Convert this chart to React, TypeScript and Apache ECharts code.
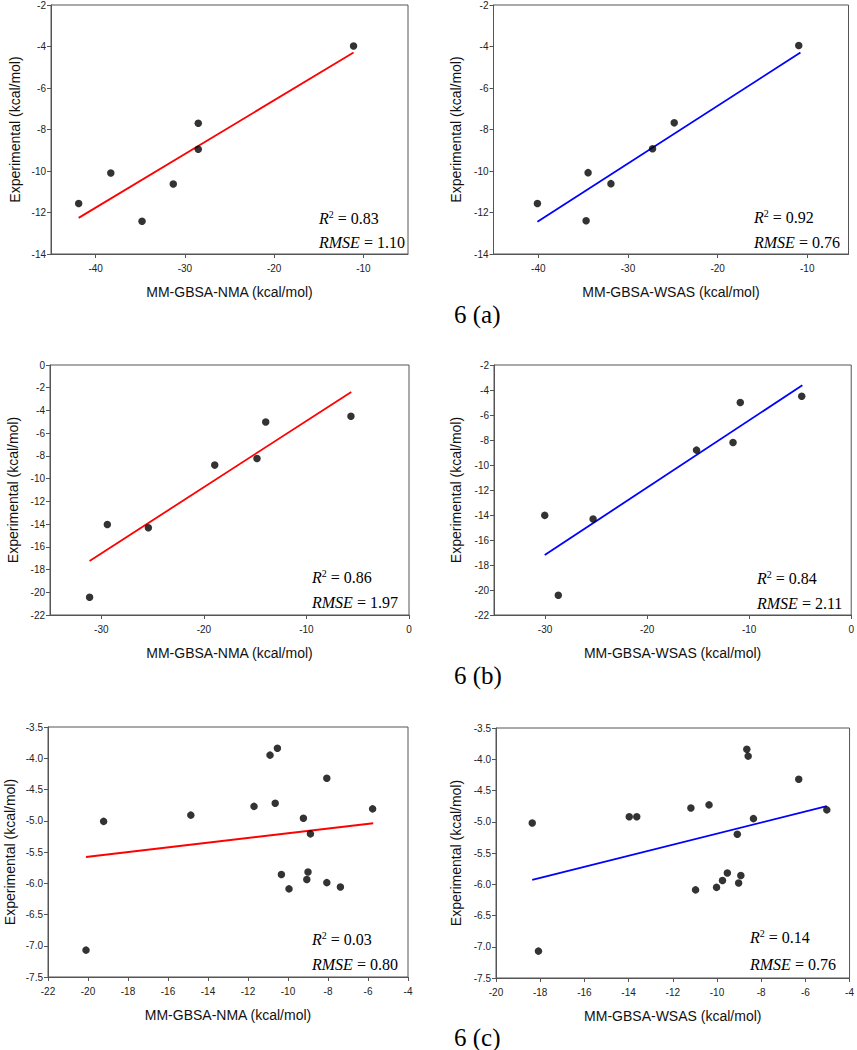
import React, { useEffect, useRef } from "react";
import * as echarts from "echarts";

// ---- 6 (a) ----
const aNmaX = [-41.9, -38.3, -34.8, -31.3, -28.5, -28.5, -11.1];
const aNmaY = [-11.57, -10.1, -12.42, -10.63, -7.7, -8.95, -3.98];
const aNmaFitX = [-41.9, -11.1];
const aNmaFitY = [-12.26, -4.29];
const aWsasX = [-40.1, -34.45, -34.67, -31.9, -27.26, -24.84, -10.95];
const aWsasY = [-11.57, -10.08, -12.4, -10.61, -8.93, -7.68, -3.95];
const aWsasFitX = [-40.1, -10.76];
const aWsasFitY = [-12.45, -4.29];

// ---- 6 (b) ----
const bNmaX = [-31.14, -29.41, -25.41, -18.94, -14.82, -13.97, -5.66];
const bNmaY = [-20.44, -14.03, -14.32, -8.81, -8.23, -5.01, -4.51];
const bNmaFitX = [-31.14, -5.63];
const bNmaFitY = [-17.25, -2.37];
const bWsasX = [-30.03, -28.7, -25.29, -15.16, -11.58, -10.87, -4.85];
const bWsasY = [-14.03, -20.42, -14.32, -8.81, -8.2, -5.0, -4.5];
const bWsasFitX = [-30.03, -4.79];
const bWsasFitY = [-17.2, -3.62];

// ---- 6 (c) ----
const cNmaX = [-20.1, -19.22, -14.86, -11.7, -10.9, -10.53, -10.64, -10.33, -9.95, -9.23, -8.88, -9.0, -9.06, -8.06, -8.06, -7.38, -5.77];
const cNmaY = [-7.07, -5.01, -4.91, -4.77, -3.95, -3.84, -4.72, -5.86, -6.09, -4.96, -5.21, -5.82, -5.94, -4.32, -5.99, -6.06, -4.81];
const cNmaFitX = [-20.1, -5.74];
const cNmaFitY = [-5.58, -5.04];
const cWsasX = [-18.36, -18.08, -13.97, -13.63, -11.18, -10.97, -10.36, -10.02, -9.75, -9.53, -9.08, -9.02, -8.92, -8.65, -8.59, -8.35, -6.3, -5.03];
const cWsasY = [-5.02, -7.07, -4.92, -4.92, -4.78, -6.09, -4.73, -6.05, -5.94, -5.82, -5.2, -5.98, -5.86, -3.84, -3.95, -4.95, -4.32, -4.81];
const cWsasFitX = [-18.36, -5.03];
const cWsasFitY = [-5.93, -4.75];

// ---- tick labels / stats ----
const xTicksA = [-40, -30, -20, -10];
const xTicksB = [-30, -20, -10, 0];
const statsR2 = ["0.83", "0.92", "0.86", "0.84", "0.03", "0.14"];
const statsRmse = ["1.10", "0.76", "1.97", "2.11", "0.80", "0.76"];
const captions = ["6 (a)", "6 (b)", "6 (c)"];
const xTitles = ["MM-GBSA-NMA (kcal/mol)", "MM-GBSA-WSAS (kcal/mol)"];
const yTitle = "Experimental (kcal/mol)";

const SANS = "Liberation Sans, Arial, sans-serif";
const SERIF = "Liberation Serif, Times New Roman, serif";
const AXIS = "#555";

type Panel = {
  left: number; top: number; width: number; height: number;
  xMin: number; xMax: number; xTicks?: number[]; xInterval?: number;
  yMin: number; yMax: number; yInterval: number; yDec: number;
  xName: string; yGap: number;
  px: number[]; py: number[]; fx: number[]; fy: number[]; color: string;
  tx: number; ty1: number; ty2: number;
};

const panels: Panel[] = [
  { left: 51, top: 4, width: 357, height: 250, xMin: -45, xMax: -5, xTicks: xTicksA,
    yMin: -14, yMax: -2, yInterval: 2, yDec: 0, xName: xTitles[0], yGap: 29,
    px: aNmaX, py: aNmaY, fx: aNmaFitX, fy: aNmaFitY, color: "#ff0000", tx: 319, ty1: 218, ty2: 242 },
  { left: 493.5, top: 4, width: 355, height: 250, xMin: -45, xMax: -5.4, xTicks: xTicksA,
    yMin: -14, yMax: -2, yInterval: 2, yDec: 0, xName: xTitles[1], yGap: 31,
    px: aWsasX, py: aWsasY, fx: aWsasFitX, fy: aWsasFitY, color: "#0000ff", tx: 754, ty1: 217, ty2: 242 },
  { left: 50, top: 365, width: 359, height: 250, xMin: -35, xMax: 0, xTicks: xTicksB,
    yMin: -22, yMax: 0, yInterval: 2, yDec: 0, xName: xTitles[0], yGap: 30,
    px: bNmaX, py: bNmaY, fx: bNmaFitX, fy: bNmaFitY, color: "#ff0000", tx: 312, ty1: 577, ty2: 602 },
  { left: 494, top: 365, width: 359, height: 250, xMin: -35, xMax: 0, xTicks: xTicksB,
    yMin: -22, yMax: -2, yInterval: 2, yDec: 0, xName: xTitles[1], yGap: 31,
    px: bWsasX, py: bWsasY, fx: bWsasFitX, fy: bWsasFitY, color: "#0000ff", tx: 757, ty1: 578, ty2: 603 },
  { left: 48, top: 727, width: 360, height: 250, xMin: -22, xMax: -4, xInterval: 2,
    yMin: -7.5, yMax: -3.5, yInterval: 0.5, yDec: 1, xName: xTitles[0], yGap: 31,
    px: cNmaX, py: cNmaY, fx: cNmaFitX, fy: cNmaFitY, color: "#ff0000", tx: 312, ty1: 939, ty2: 964 },
  { left: 496, top: 728, width: 358, height: 250, xMin: -20, xMax: -4, xInterval: 2,
    yMin: -7.5, yMax: -3.5, yInterval: 0.5, yDec: 1, xName: xTitles[1], yGap: 33,
    px: cWsasX, py: cWsasY, fx: cWsasFitX, fy: cWsasFitY, color: "#0000ff", tx: 750, ty1: 937, ty2: 964 },
];

const captionPos = [
  { x: 454, y: 314 },
  { x: 454, y: 675 },
  { x: 454, y: 1037 },
];

function buildOption() {
  const grid: any[] = [];
  const xAxis: any[] = [];
  const yAxis: any[] = [];
  const series: any[] = [];
  const graphic: any[] = [];

  panels.forEach((p, i) => {
    grid.push({
      left: p.left, top: p.top, width: p.width, height: p.height,
      show: true, borderColor: AXIS, borderWidth: 1, backgroundColor: "transparent",
      containLabel: false,
    });
    const xa: any = {
      type: "value", gridIndex: i, min: p.xMin, max: p.xMax,
      name: p.xName, nameLocation: "middle", nameGap: 31,
      nameTextStyle: { fontFamily: SANS, fontSize: 14, color: "#111" },
      axisLine: { show: true, onZero: false, lineStyle: { color: AXIS, width: 1 } },
      axisTick: { show: true, inside: false, length: 4, lineStyle: { color: AXIS } },
      axisLabel: { fontFamily: SANS, fontSize: 10, color: "#222", margin: 9, showMinLabel: true, showMaxLabel: true },
      splitLine: { show: false },
    };
    if (p.xTicks) {
      xa.axisLabel.customValues = p.xTicks;
      xa.axisTick.customValues = p.xTicks;
    } else {
      xa.interval = p.xInterval;
    }
    xAxis.push(xa);
    yAxis.push({
      type: "value", gridIndex: i, min: p.yMin, max: p.yMax, interval: p.yInterval,
      name: yTitle, nameLocation: "middle", nameGap: p.yGap,
      nameTextStyle: { fontFamily: SANS, fontSize: 14, color: "#111" },
      axisLine: { show: true, onZero: false, lineStyle: { color: AXIS, width: 1 } },
      axisTick: { show: true, inside: false, length: 4, lineStyle: { color: AXIS } },
      axisLabel: {
        fontFamily: SANS, fontSize: 10, color: "#222", margin: 5,
        showMinLabel: true, showMaxLabel: true,
        formatter: (v: number) => v.toFixed(p.yDec),
      },
      splitLine: { show: false },
    });
    series.push({
      type: "line", xAxisIndex: i, yAxisIndex: i,
      data: p.fx.map((x, k) => [x, p.fy[k]]),
      showSymbol: false, symbol: "none",
      lineStyle: { color: p.color, width: 1.8 }, z: 2, silent: true,
    });
    series.push({
      type: "scatter", xAxisIndex: i, yAxisIndex: i,
      data: p.px.map((x, k) => [x, p.py[k]]),
      symbol: "circle", symbolSize: 7.5,
      itemStyle: { color: "#000" }, z: 3, silent: true,
    });
    graphic.push({
      type: "text", x: p.tx, y: p.ty1, z: 10,
      style: {
        text: `{i|R}{s|2}{n| = ${statsR2[i]}}`,
        verticalAlign: "middle", fill: "#000",
        rich: {
          i: { fontFamily: SERIF, fontStyle: "italic", fontSize: 16, fill: "#000", lineHeight: 18 },
          s: { fontFamily: SERIF, fontSize: 10, fill: "#000", verticalAlign: "top", lineHeight: 10 },
          n: { fontFamily: SERIF, fontSize: 16, fill: "#000", lineHeight: 18 },
        },
      },
    });
    graphic.push({
      type: "text", x: p.tx, y: p.ty2, z: 10,
      style: {
        text: `{i|RMSE}{n| = ${statsRmse[i]}}`,
        verticalAlign: "middle", fill: "#000",
        rich: {
          i: { fontFamily: SERIF, fontStyle: "italic", fontSize: 16, fill: "#000", lineHeight: 18 },
          n: { fontFamily: SERIF, fontSize: 16, fill: "#000", lineHeight: 18 },
        },
      },
    });
  });

  captions.forEach((c, i) => {
    graphic.push({
      type: "text", x: captionPos[i].x, y: captionPos[i].y, z: 10,
      style: { text: c, fontFamily: SERIF, fontSize: 25, fill: "#000", verticalAlign: "middle" },
    });
  });

  return {
    animation: false,
    backgroundColor: "#ffffff",
    grid, xAxis, yAxis, series, graphic,
  };
}

export default function App() {
  const ref = useRef<HTMLDivElement>(null);
  useEffect(() => {
    if (!ref.current) return;
    const chart = echarts.init(ref.current, undefined, { renderer: "svg" });
    chart.setOption(buildOption() as any);
    return () => chart.dispose();
  }, []);
  return (
    <div
      ref={ref}
      style={{ position: "fixed", left: 0, top: 0, width: 857, height: 1050, background: "#fff" }}
    />
  );
}
